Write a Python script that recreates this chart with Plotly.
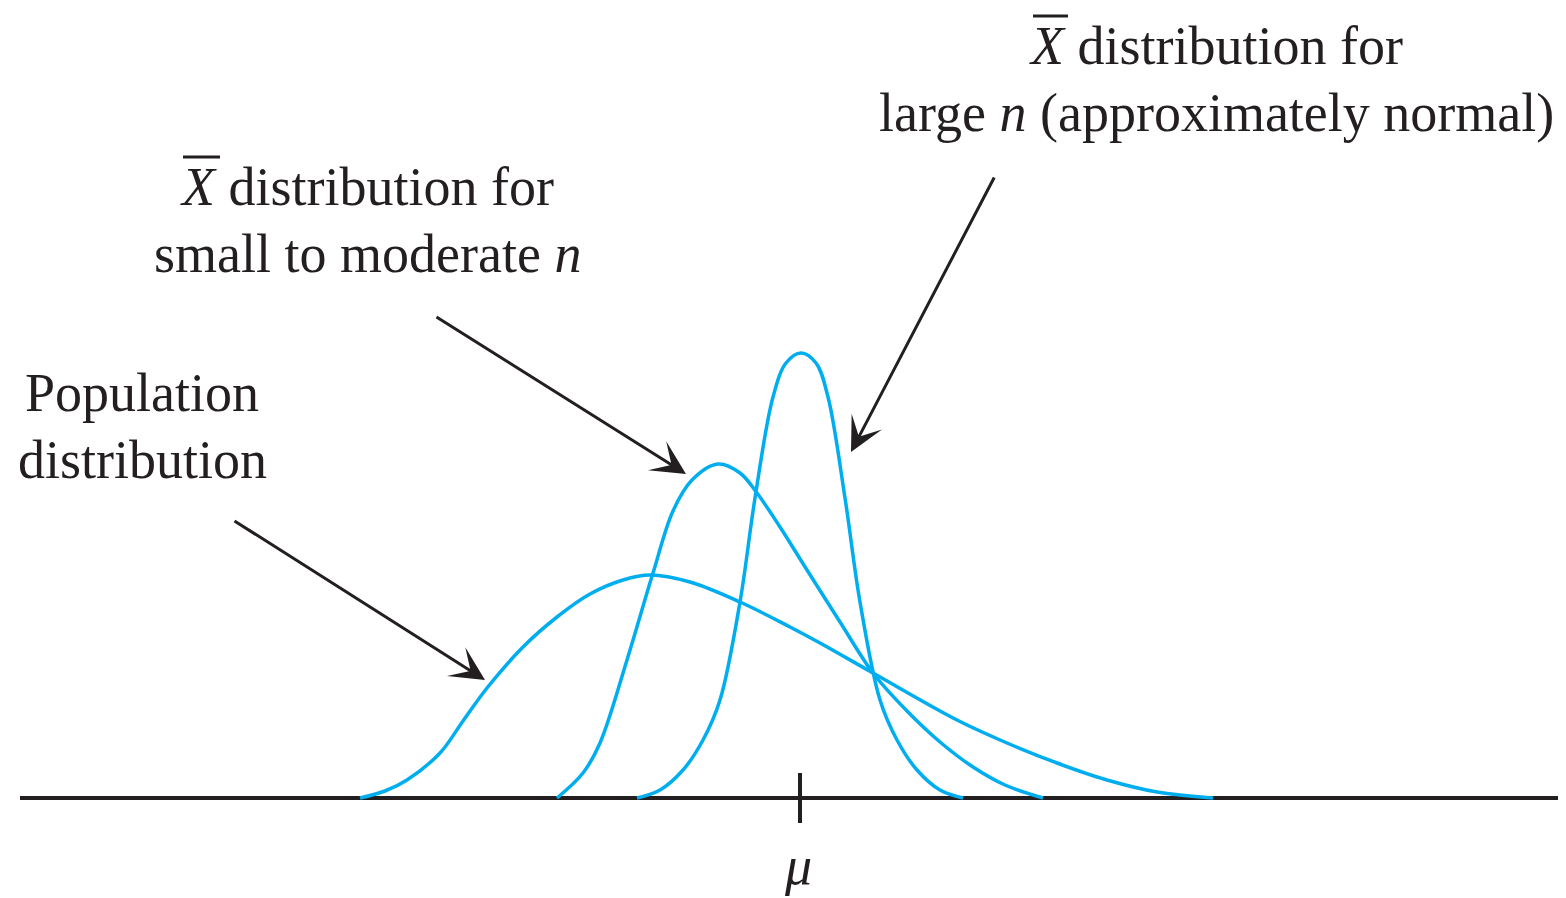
import plotly.graph_objects as go

# ---- data (horizontal position, height above the axis) ----
pop_x = [360, 385, 407, 440, 463, 487, 523, 557, 590, 623, 650, 690, 740, 790, 820, 873, 957,
         1007, 1057, 1107, 1157, 1213]
pop_y = [0, 7, 18, 45, 77, 110, 151, 181, 204, 218, 223, 216, 196, 171, 155, 125, 78,
         55, 35, 18, 6, 0]

mid_x = [557, 583, 600, 627, 653, 673, 692, 718, 740, 757, 780, 807, 840, 873, 907, 940, 973,
         1005, 1043]
mid_y = [0, 25, 55, 138, 225, 287, 318, 334, 325, 305, 271, 228, 176, 125, 87, 56, 31,
         13, 0]

big_x = [637, 660, 683, 703, 720, 740, 755, 773, 786, 801, 816, 828, 845, 860, 880, 897, 917,
         940, 963]
big_y = [0, 8, 28, 58, 98, 196, 300, 401, 435, 445, 435, 401, 300, 196, 98, 58, 28,
         8, 0]

mu_x = 800
axis_x = [20, 1560]

labels_big = ["<i>X</i> distribution for", "large <i>n</i> (approximately normal)"]
labels_mid = ["<i>X</i> distribution for", "small to moderate <i>n</i>"]
labels_pop = ["Population", "distribution"]

BLUE = "#00AEEF"
INK = "#231F20"
FONT = "Liberation Serif"

fig = go.Figure()
for xs, ys in [(pop_x, pop_y), (mid_x, mid_y), (big_x, big_y)]:
    fig.add_trace(go.Scatter(x=xs, y=ys, mode="lines",
                             line=dict(color=BLUE, width=3.5, shape="spline", smoothing=1.0),
                             hoverinfo="skip", showlegend=False))

# axis line and the tick at mu
fig.add_shape(type="line", x0=axis_x[0], x1=axis_x[1], y0=0, y1=0,
              line=dict(color=INK, width=4), layer="below")
fig.add_shape(type="line", x0=mu_x, x1=mu_x, y0=25, y1=-25,
              line=dict(color=INK, width=4))

def text(x, y, s, size=54):
    fig.add_annotation(x=x, y=y, text=s, showarrow=False, xanchor="center", yanchor="middle",
                       font=dict(family=FONT, size=size, color=INK))

text(mu_x - 2, -68, "<i>μ</i>", 54)

# labels
text(1216, 752, labels_big[0])
text(1216, 685, labels_big[1])
text(367, 611, labels_mid[0])
text(367, 544, labels_mid[1])
text(142, 405, labels_pop[0])
text(142, 338, labels_pop[1])

# overbars on X
fig.add_shape(type="line", x0=1033, x1=1068, y0=782, y1=782, line=dict(color=INK, width=3))
fig.add_shape(type="line", x0=183, x1=220, y0=641, y1=641, line=dict(color=INK, width=3))

def arrow(tx, ty, hx, hy):
    fig.add_annotation(x=hx, y=hy, ax=tx, ay=ty, xref="x", yref="y", axref="x", ayref="y",
                       text="", showarrow=True, arrowhead=3, arrowsize=1.9, arrowwidth=3,
                       arrowcolor=INK, standoff=0)

arrow(233, 278, 485, 118)
arrow(435, 482, 686, 324)
arrow(995, 622, 851, 346)

# the page body has an 8px margin: shift the ranges so marks land where the reference has them
fig.update_layout(width=1566, height=898, margin=dict(l=0, r=0, t=0, b=0),
                  paper_bgcolor="white", plot_bgcolor="white", showlegend=False)
fig.update_xaxes(range=[8, 1574], visible=False)
fig.update_yaxes(range=[-108, 790], visible=False)

fig.write_html("out.html")
